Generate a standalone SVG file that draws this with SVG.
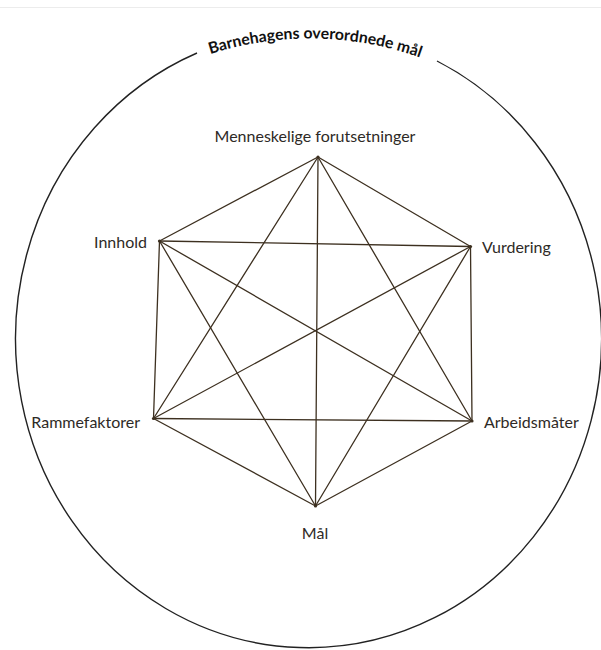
<svg xmlns="http://www.w3.org/2000/svg" width="601" height="650" viewBox="0 0 601 650">
  <style>
    .lbl { font-family: Lato, "Liberation Sans", sans-serif; font-size: 16px; fill: #2e2a26; }
    .title { font-family: Lato, "Liberation Sans", sans-serif; font-size: 15.8px; font-weight: bold; fill: #111; }
    .edge { stroke: #3d3020; stroke-width: 1.3; fill: none; stroke-linecap: round; }
    .outer { stroke: #222; stroke-width: 1.4; fill: none; }
    .dot { fill: #3d3020; }
  </style>
  <defs>
    <path id="titleArc" d="M 193,60 A 330 330 0 0 1 437,64"/>
  </defs>
  <rect width="601" height="650" fill="#fff"/>
  <line x1="0" y1="7.5" x2="601" y2="7.5" stroke="#ececec" stroke-width="1"/>

  <g id="outer-circle">
    <path class="outer" d="M 197,53 A 293 309 0 1 0 437,61"/>
    <text class="title"><textPath href="#titleArc" startOffset="50%" text-anchor="middle">Barnehagens overordnede mål</textPath></text>
  </g>

  <g id="connectors">
    <line class="edge" x1="318" y1="157" x2="159.5" y2="241"/>
    <line class="edge" x1="318" y1="157" x2="470.5" y2="246.5"/>
    <line class="edge" x1="318" y1="157" x2="153.5" y2="418.5"/>
    <line class="edge" x1="318" y1="157" x2="472" y2="421"/>
    <line class="edge" x1="318" y1="157" x2="315.5" y2="506"/>
    <line class="edge" x1="159.5" y1="241" x2="470.5" y2="246.5"/>
    <line class="edge" x1="159.5" y1="241" x2="153.5" y2="418.5"/>
    <line class="edge" x1="159.5" y1="241" x2="472" y2="421"/>
    <line class="edge" x1="159.5" y1="241" x2="315.5" y2="506"/>
    <line class="edge" x1="470.5" y1="246.5" x2="153.5" y2="418.5"/>
    <line class="edge" x1="470.5" y1="246.5" x2="472" y2="421"/>
    <line class="edge" x1="470.5" y1="246.5" x2="315.5" y2="506"/>
    <line class="edge" x1="153.5" y1="418.5" x2="472" y2="421"/>
    <line class="edge" x1="153.5" y1="418.5" x2="315.5" y2="506"/>
    <line class="edge" x1="472" y1="421" x2="315.5" y2="506"/>
  </g>

  <g id="node-menneskelige">
    <circle class="dot" cx="318" cy="157" r="1.6"/>
    <text class="lbl" x="315" y="142" text-anchor="middle">Menneskelige forutsetninger</text>
  </g>
  <g id="node-innhold">
    <circle class="dot" cx="159.5" cy="241" r="1.6"/>
    <text class="lbl" x="147" y="248" text-anchor="end">Innhold</text>
  </g>
  <g id="node-vurdering">
    <circle class="dot" cx="470.5" cy="246.5" r="1.6"/>
    <text class="lbl" x="482" y="253">Vurdering</text>
  </g>
  <g id="node-rammefaktorer">
    <circle class="dot" cx="153.5" cy="418.5" r="1.6"/>
    <text class="lbl" x="140" y="428" text-anchor="end">Rammefaktorer</text>
  </g>
  <g id="node-arbeidsmater">
    <circle class="dot" cx="472" cy="421" r="1.6"/>
    <text class="lbl" x="484" y="428">Arbeidsmåter</text>
  </g>
  <g id="node-mal">
    <circle class="dot" cx="315.5" cy="506" r="1.6"/>
    <text class="lbl" x="315" y="539" text-anchor="middle" fill="#555">Mål</text>
  </g>
</svg>
